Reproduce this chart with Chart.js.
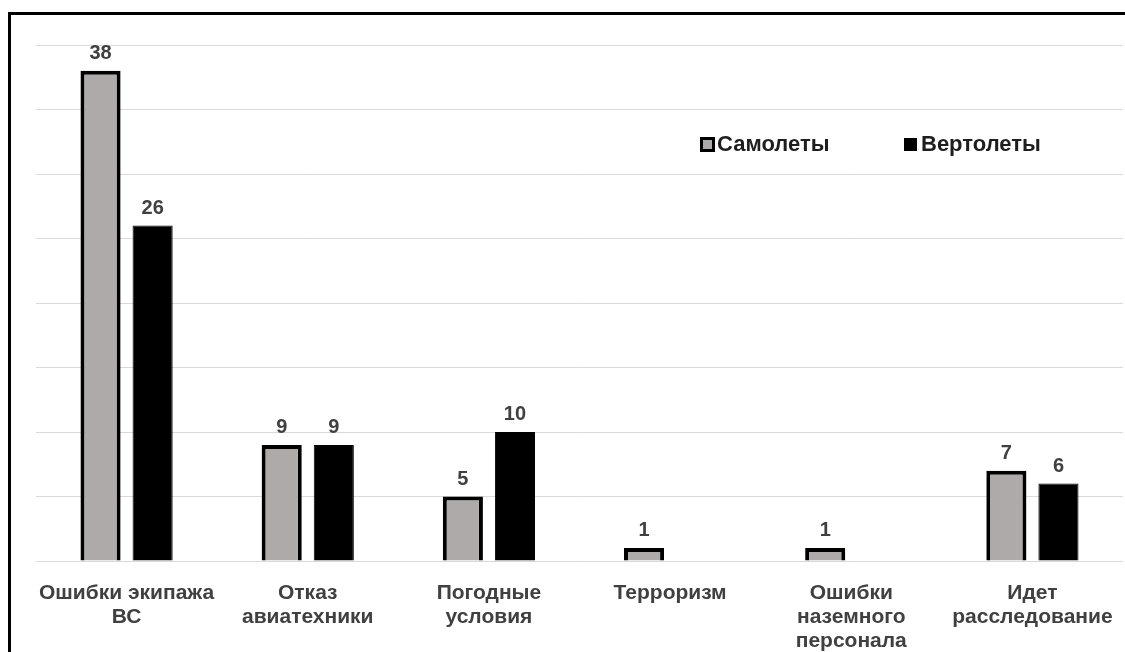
<!DOCTYPE html>
<html>
<head>
<meta charset="utf-8">
<script src="https://cdn.jsdelivr.net/npm/chart.js@4/dist/chart.umd.min.js"></script>
<style>
  body { margin: 0; background: #fff; }
  #wrap { width: 1125px; height: 652px; position: relative; }
</style>
</head>
<body>
<div id="wrap"><canvas id="grafica" width="1125" height="652"></canvas></div>
<script>
const categorias = [
    ['Ошибки экипажа', 'ВС'],
    ['Отказ', 'авиатехники'],
    ['Погодные', 'условия'],
    ['Терроризм'],
    ['Ошибки', 'наземного', 'персонала'],
    ['Идет', 'расследование']
];
const samolety = [38, 9, 5, 1, 1, 7];
const vertolety = [26, 9, 10, null, null, 6];
const nombresSeries = ['Самолеты', 'Вертолеты'];

const fuente = '"Liberation Sans", Arial, sans-serif';

// marco negro alrededor del grafico
const marcoPlugin = {
    id: 'marco',
    afterDraw(chart) {
        const ctx = chart.ctx;
        ctx.save();
        ctx.strokeStyle = '#000';
        ctx.lineWidth = 3;
        ctx.beginPath();
        ctx.moveTo(9.5, 652);
        ctx.lineTo(9.5, 13.5);
        ctx.lineTo(1125, 13.5);
        ctx.stroke();
        ctx.restore();
    }
};

// valores encima de las barras
const etiquetasPlugin = {
    id: 'etiquetas',
    afterDatasetsDraw(chart) {
        const ctx = chart.ctx;
        ctx.save();
        ctx.font = 'bold 20px ' + fuente;
        ctx.fillStyle = '#404040';
        ctx.textAlign = 'center';
        ctx.textBaseline = 'alphabetic';
        chart.data.datasets.forEach((ds, i) => {
            const meta = chart.getDatasetMeta(i);
            meta.data.forEach((barra, j) => {
                const v = ds.data[j];
                if (v === null || v === undefined) return;
                ctx.fillText(String(v), barra.x, barra.y - 12);
            });
        });
        ctx.restore();
    }
};

// leyenda dentro del area
const leyendaPlugin = {
    id: 'leyendaPropia',
    afterDraw(chart) {
        const ctx = chart.ctx;
        ctx.save();
        ctx.font = 'bold 22px ' + fuente;
        ctx.textBaseline = 'middle';
        // Самолеты
        ctx.fillStyle = '#aeaaaa';
        ctx.fillRect(701.5, 138.5, 12, 12);
        ctx.strokeStyle = '#000';
        ctx.lineWidth = 3;
        ctx.strokeRect(701.5, 138.5, 12, 12);
        ctx.fillStyle = '#1e1e1e';
        ctx.fillText(nombresSeries[0], 717, 145);
        // Вертолеты
        ctx.fillStyle = '#000';
        ctx.fillRect(904, 138, 13, 13);
        ctx.fillStyle = '#1e1e1e';
        ctx.fillText(nombresSeries[1], 921, 145);
        ctx.restore();
    }
};

const ctx = document.getElementById('grafica').getContext('2d');
new Chart(ctx, {
    type: 'bar',
    data: {
        labels: categorias,
        datasets: [
            {
                label: nombresSeries[0],
                data: samolety,
                backgroundColor: '#aeaaaa',
                borderColor: '#000',
                borderWidth: 4,
                categoryPercentage: 0.575,
                barPercentage: 0.77
            },
            {
                label: nombresSeries[1],
                data: vertolety,
                backgroundColor: '#000',
                borderColor: '#000',
                borderWidth: 1,
                categoryPercentage: 0.575,
                barPercentage: 0.77
            }
        ]
    },
    options: {
        responsive: false,
        animation: false,
        layout: { padding: { left: 36, right: 2, top: 45, bottom: 0 } },
        plugins: {
            legend: { display: false },
            tooltip: { enabled: false }
        },
        scales: {
            x: {
                grid: { display: false },
                border: { display: false },
                ticks: {
                    color: '#404040',
                    font: { family: fuente, size: 21, weight: 'bold', lineHeight: 1.143 },
                    padding: 12,
                    maxRotation: 0,
                    autoSkip: false
                },
                afterFit(scale) { scale.height = 91; }
            },
            y: {
                min: 0,
                max: 40,
                ticks: { display: false, stepSize: 5 },
                grid: { color: '#d9d9d9', lineWidth: 1, drawTicks: false },
                border: { display: false },
                afterFit(scale) { scale.width = 0; }
            }
        }
    },
    plugins: [marcoPlugin, etiquetasPlugin, leyendaPlugin]
});
</script>
</body>
</html>
